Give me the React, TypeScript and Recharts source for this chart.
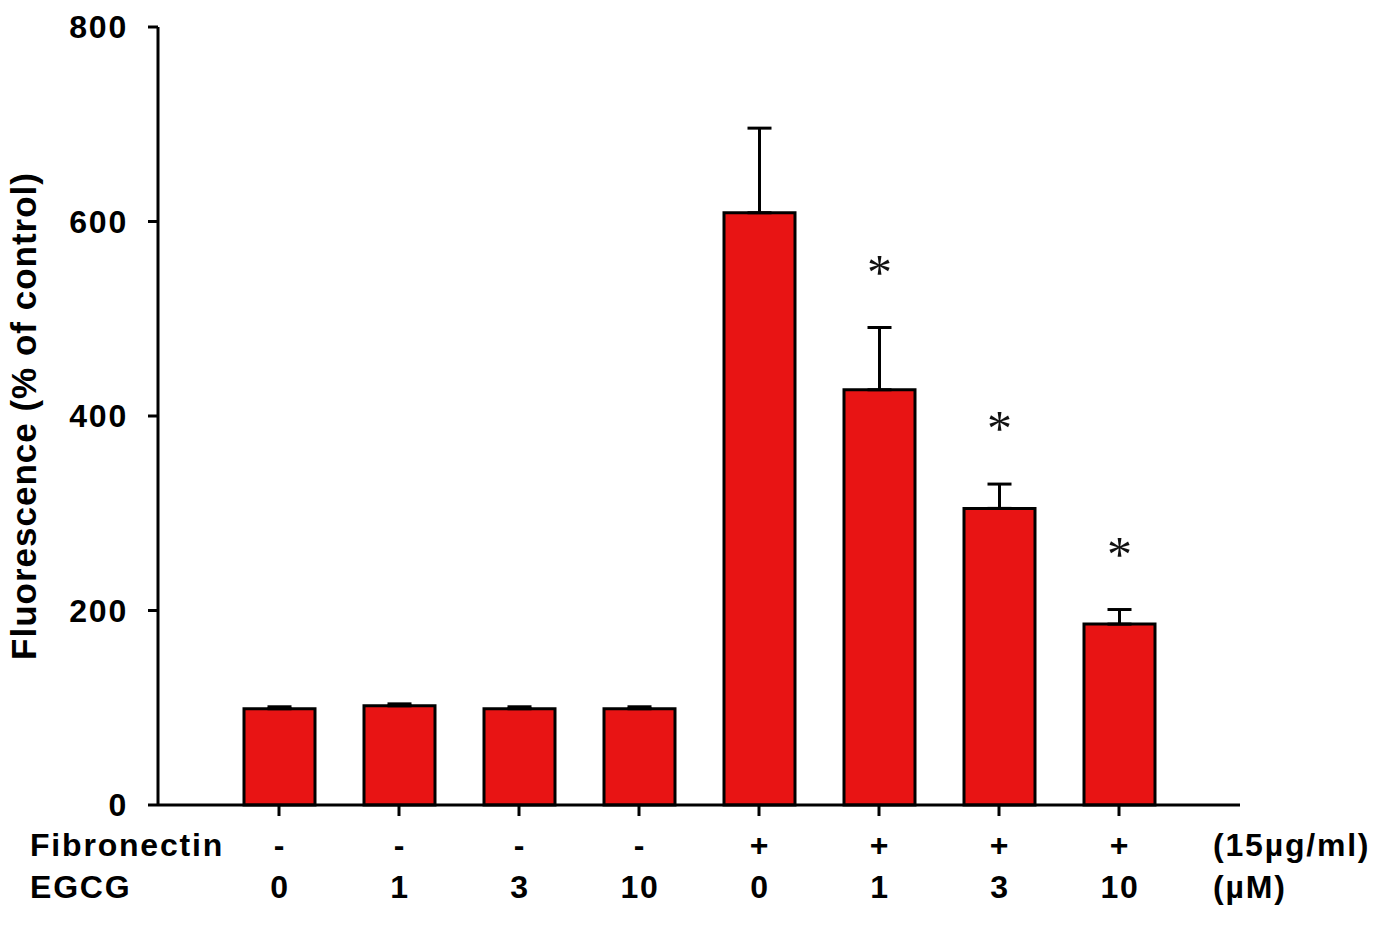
import React from 'react';
import { ComposedChart, Bar, XAxis, YAxis, ErrorBar, LabelList } from 'recharts';

const fibronectin = ['-', '-', '-', '-', '+', '+', '+', '+'];
const egcg = ['0', '1', '3', '10', '0', '1', '3', '10'];
const fluorescence = [99, 102, 99, 99, 609, 427, 305, 186];
const sem = [2, 2, 2, 2, 87, 64, 25, 15];
const significant = [false, false, false, false, false, true, true, true];
const yTicks = [0, 200, 400, 600, 800];

const data = fluorescence.map((v, i) => ({
    id: i,
    value: v,
    err: [0, sem[i]],
}));

const FONT = '"Liberation Sans", Arial, sans-serif';
const textStyle = { fontFamily: FONT, fontWeight: 700, fontSize: 32, fill: '#000', letterSpacing: 1.8 };

const GroupTick = (props: any) => {
    const { x, y, payload } = props;
    const i = payload.value as number;
    const last = fluorescence.length - 1;
    return (
        <g>
            {i === 0 && (
                <>
                    <text x={30} y={y + 38} {...textStyle}>Fibronectin</text>
                    <text x={30} y={y + 80} {...textStyle}>EGCG</text>
                </>
            )}
            <text x={x + 1} y={y + 38} textAnchor="middle" {...textStyle}>{fibronectin[i]}</text>
            <text x={x + 1} y={y + 80} textAnchor="middle" {...textStyle}>{egcg[i]}</text>
            {i === last && (
                <>
                    <text x={1213} y={y + 38} {...textStyle}>(15µg/ml)</text>
                    <text x={1213} y={y + 80} {...textStyle}>(µM)</text>
                </>
            )}
        </g>
    );
};

const StarLabel = (props: any) => {
    const { x, y, width, height, value, index } = props;
    if (!significant[index]) return null;
    // asterisk sits a fixed distance above the error bar cap
    const pxPerUnit = height / value;
    const cy = y - sem[index] * pxPerUnit - 65;
    return (
        <text
            x={x + width / 2}
            y={cy + 26}
            textAnchor="middle"
            fontFamily='"Liberation Serif", "Times New Roman", serif'
            fontSize={50}
            fill="#111"
        >
            *
        </text>
    );
};

export default function App() {
    return (
        <div style={{ position: 'absolute', left: 0, top: 0, background: '#fff' }}>
            <ComposedChart
                width={1376}
                height={931}
                data={data}
                margin={{ top: 27, right: 136, left: 0, bottom: 0 }}
                barCategoryGap="20%"
            >
                <XAxis
                    dataKey="id"
                    type="category"
                    height={126}
                    padding={{ left: 61, right: 61 }}
                    axisLine={{ stroke: '#000', strokeWidth: 3 }}
                    tickLine={{ stroke: '#000', strokeWidth: 3 }}
                    tickSize={11}
                    tick={<GroupTick />}
                    interval={0}
                />
                <YAxis
                    width={158}
                    domain={[0, 800]}
                    ticks={yTicks}
                    axisLine={{ stroke: '#000', strokeWidth: 3 }}
                    tickLine={{ stroke: '#000', strokeWidth: 3 }}
                    tickSize={10}
                    tickMargin={20}
                    tick={textStyle}
                    label={{
                        value: 'Fluorescence (% of control)',
                        angle: -90,
                        position: 'insideLeft',
                        offset: 0,
                        dx: 24,
                        style: { fontFamily: FONT, fontWeight: 700, fontSize: 35, fill: '#000', textAnchor: 'middle', letterSpacing: 1 },
                    }}
                />
                <Bar
                    dataKey="value"
                    fill="#E81414"
                    stroke="#000"
                    strokeWidth={3}
                    barSize={71}
                    isAnimationActive={false}
                >
                    <ErrorBar dataKey="err" width={12} stroke="#000" strokeWidth={3} direction="y" />
                    <LabelList dataKey="value" content={<StarLabel />} />
                </Bar>
            </ComposedChart>
        </div>
    );
}
